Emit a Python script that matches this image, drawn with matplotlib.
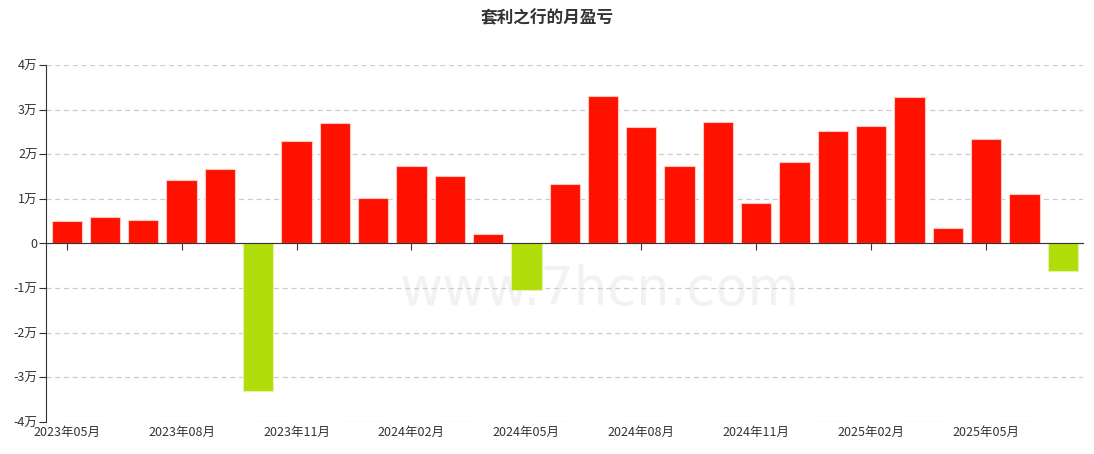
import matplotlib
matplotlib.use("Agg")
import matplotlib.pyplot as plt
import matplotlib.transforms as mtransforms

plt.rcParams['font.family'] = ['Noto Sans CJK SC', 'DejaVu Sans']

months = ["2023年05月", "2023年06月", "2023年07月", "2023年08月", "2023年09月", "2023年10月",
          "2023年11月", "2023年12月", "2024年01月", "2024年02月", "2024年03月", "2024年04月",
          "2024年05月", "2024年06月", "2024年07月", "2024年08月", "2024年09月", "2024年10月",
          "2024年11月", "2024年12月", "2025年01月", "2025年02月", "2025年03月", "2025年04月",
          "2025年05月", "2025年06月", "2025年07月"]
profit = [5000, 5800, 5200, 14300, 16600, -33100, 22900, 26900, 10100, 17400, 15200, 2100,
          -10500, 13300, 33000, 26000, 17300, 27300, 9000, 18300, 25200, 26200, 32900, 3400,
          23300, 11100, -6100]
yticks = [-40000, -30000, -20000, -10000, 0, 10000, 20000, 30000, 40000]
ylabels = ["-4万", "-3万", "-2万", "-1万", "0", "1万", "2万", "3万", "4万"]

red = "#ff1100"
green = "#b1dd0a"
colors = [red if v >= 0 else green for v in profit]
edges = ["#ffc8c0" if v >= 0 else "#e4f3a8" for v in profit]
x = list(range(len(months)))

fig = plt.figure(figsize=(10.94, 4.54), dpi=100)
ax = fig.add_axes([0.042, 0.071, 0.948, 0.786])

# faint watermark
ax.text(0.341, 0.37, "www.7hcn.com", transform=ax.transAxes, fontsize=38,
        color="#f2f2f2", family="DejaVu Sans", va="center", zorder=0)

ax.bar(x, profit, width=0.79, color=colors, edgecolor=edges, linewidth=0.8, zorder=2)

ax.set_xlim(-0.54, 26.53)
ax.set_ylim(-40000, 40000)
ax.set_yticks(yticks)
ax.set_yticklabels(ylabels, fontsize=9, color="#333333")
ax.yaxis.grid(True, linestyle=(0, (4, 3)), color="#cccccc", linewidth=0.9, zorder=0)
ax.tick_params(axis="y", length=5, color="#333333", pad=1)

for s in ["top", "right"]:
    ax.spines[s].set_visible(False)
ax.spines["left"].set_color("#333333")
ax.spines["bottom"].set_position(("data", 0))
ax.spines["bottom"].set_color("#333333")
ax.spines["bottom"].set_zorder(3)

tick_pos = x[::3]
ax.set_xticks(tick_pos)
ax.set_xticklabels([])
ax.tick_params(axis="x", length=5, color="#333333", direction="out")

trans = mtransforms.blended_transform_factory(ax.transData, ax.transAxes)
for i in tick_pos:
    ax.text(i, -0.012, months[i], transform=trans, ha="center", va="top",
            fontsize=9, color="#333333")

fig.text(0.5, 0.96, "套利之行的月盈亏", ha="center", va="center",
         fontsize=12, fontweight="bold", color="#333333")

fig.savefig("out.png", dpi=100)
